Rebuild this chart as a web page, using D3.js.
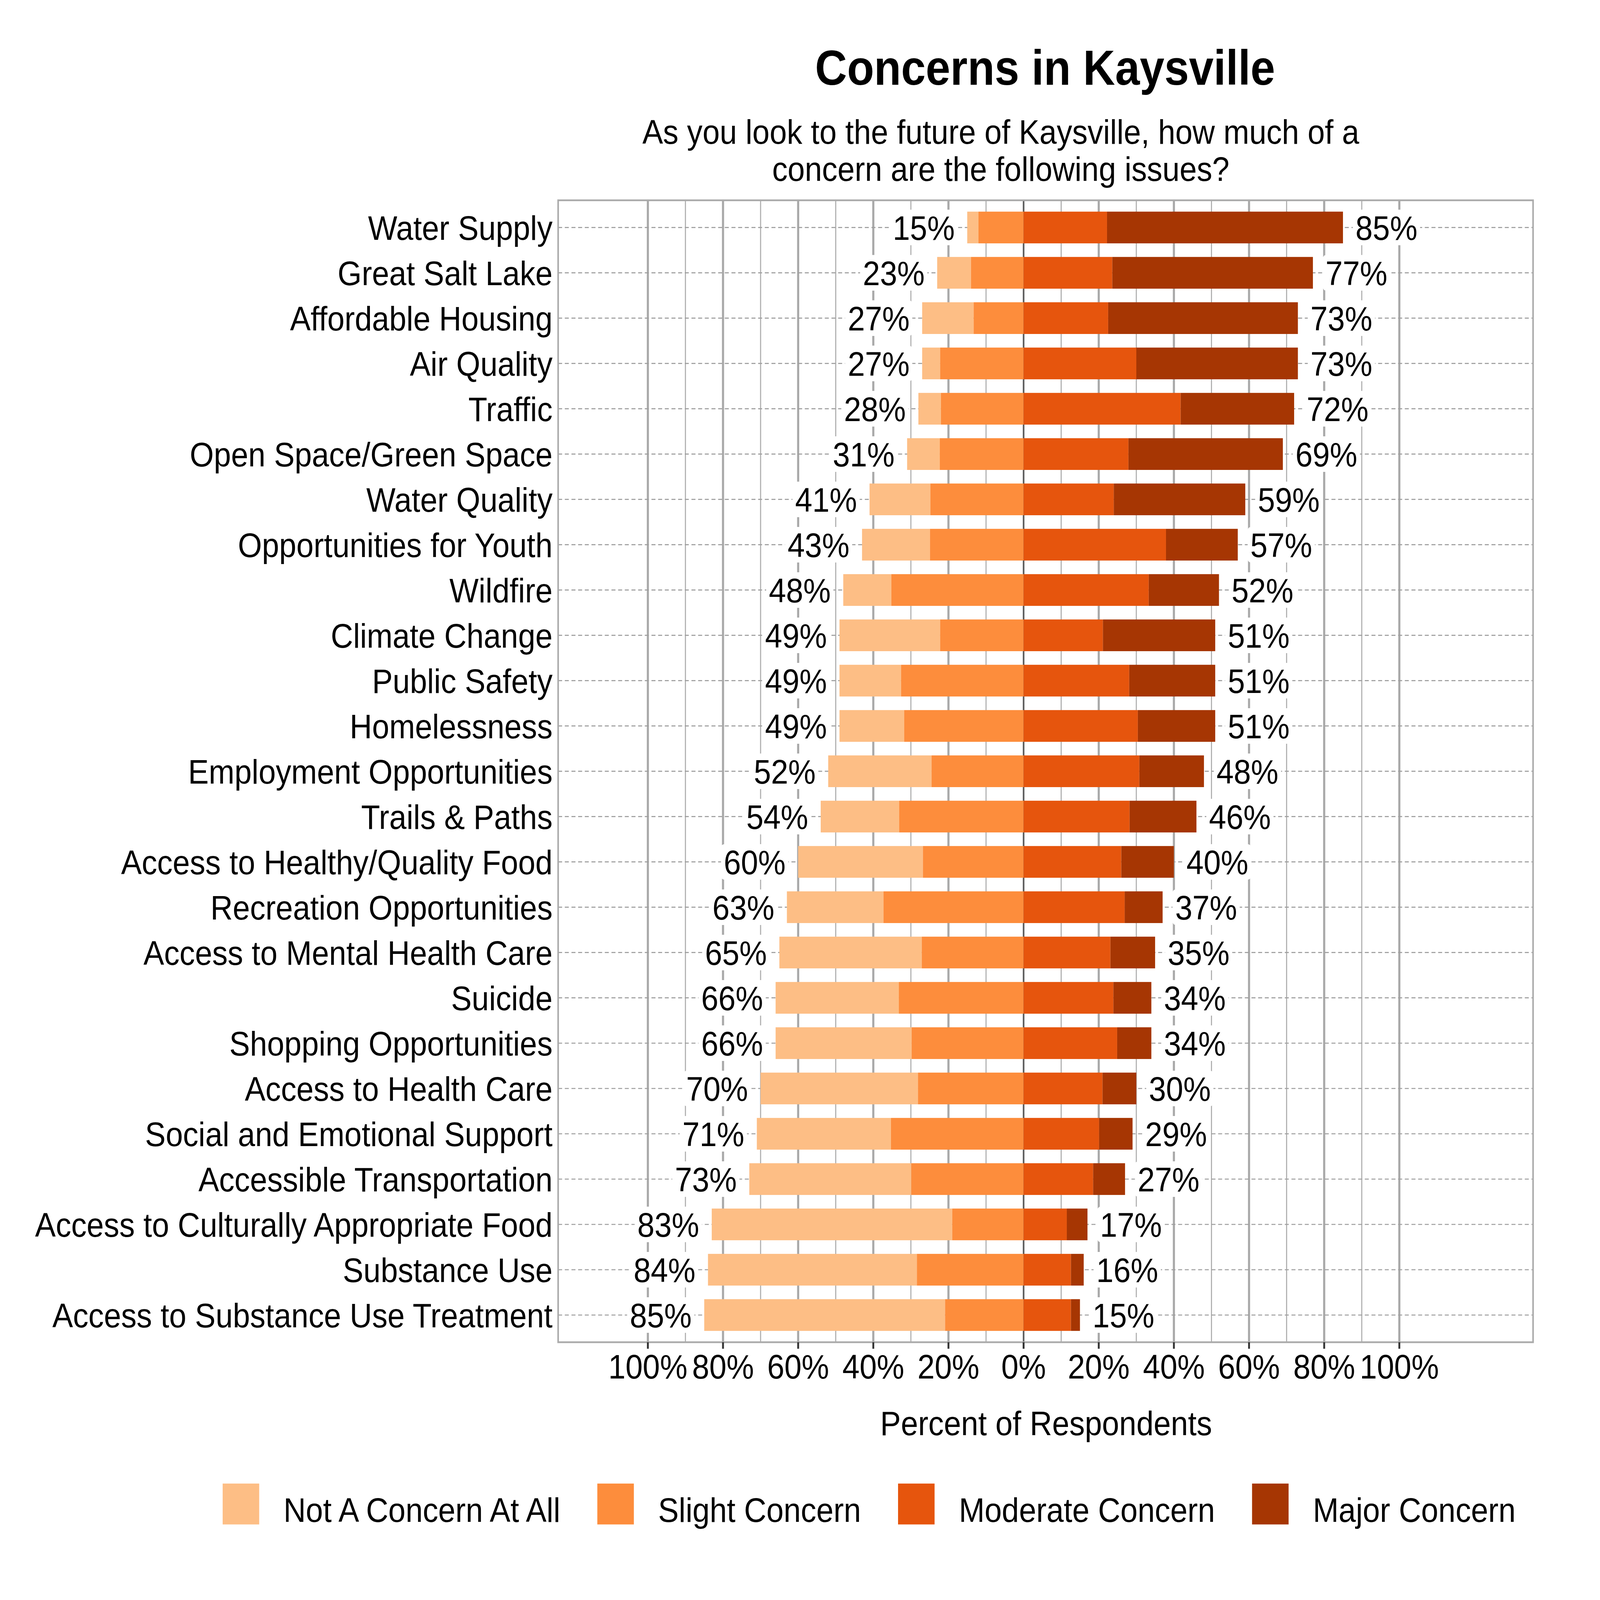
<!DOCTYPE html>
<html>
<head>
<meta charset="utf-8">
<script src="https://cdn.jsdelivr.net/npm/d3@7"></script>
<style>
  html, body { margin: 0; padding: 0; background: #fff; overflow: hidden; }
  svg { display: block; width: 100vw; height: 100vh; }
  text { font-family: "Liberation Sans", Arial, sans-serif; fill: #000; }
</style>
</head>
<body>
<div id="chart"></div>
<script>
// survey answers, percent of respondents per issue
var categories = ['Water Supply', 'Great Salt Lake', 'Affordable Housing', 'Air Quality', 'Traffic',
    'Open Space/Green Space', 'Water Quality', 'Opportunities for Youth', 'Wildfire', 'Climate Change',
    'Public Safety', 'Homelessness', 'Employment Opportunities', 'Trails & Paths',
    'Access to Healthy/Quality Food', 'Recreation Opportunities', 'Access to Mental Health Care',
    'Suicide', 'Shopping Opportunities', 'Access to Health Care', 'Social and Emotional Support',
    'Accessible Transportation', 'Access to Culturally Appropriate Food', 'Substance Use',
    'Access to Substance Use Treatment'];
var notConcern = [3, 9, 13.7, 4.8, 6, 8.7, 16.2, 18.1, 12.8, 26.8, 16.4, 17.2, 27.5, 20.9, 33.2, 25.7, 37.9, 32.8, 36.2, 41.9, 35.7, 43.1, 64, 55.6, 64.1];
var slight     = [12, 14, 13.3, 22.2, 22, 22.3, 24.8, 24.9, 35.2, 22.2, 32.6, 31.8, 24.5, 33.1, 26.8, 37.3, 27.1, 33.2, 29.8, 28.1, 35.3, 29.9, 19, 28.4, 20.9];
var moderate   = [22.2, 23.6, 22.5, 30, 41.8, 27.9, 24, 37.9, 33.3, 21.1, 28.1, 30.4, 30.8, 28.2, 26, 26.9, 23.1, 23.9, 24.9, 21, 20.1, 18.5, 11.5, 12.6, 12.6];
var major      = [62.8, 53.4, 50.5, 43, 30.2, 41.1, 35, 19.1, 18.7, 29.9, 22.9, 20.6, 17.2, 17.8, 14, 10.1, 11.9, 10.1, 9.1, 9, 8.9, 8.5, 5.5, 3.4, 2.4];
var levels = ['Not A Concern At All', 'Slight Concern', 'Moderate Concern', 'Major Concern'];
var colors = ['#fdbe85', '#fd8d3c', '#e6550d', '#a63603'];
var xTicks = [-100, -80, -60, -40, -20, 0, 20, 40, 60, 80, 100];
var xMinor = [-90, -70, -50, -30, -10, 10, 30, 50, 70, 90];

var W = 6000, H = 5400,
    panel = { left: 2093, right: 5749, top: 676, bottom: 4530 },
    fs = 116;

var svg = d3.select('#chart').append('svg')
    .attr('viewBox', '0 0 ' + W + ' ' + H)
    .attr('preserveAspectRatio', 'none');
svg.append('rect').attr('width', W).attr('height', H).attr('fill', '#fff');

var x = d3.scaleLinear().domain([-100, 100]).range([2429.5, 5247.5]);
var y = d3.scalePoint().domain(categories).range([panel.top, panel.bottom]).padding(0.6);
var barH = y.step() * 0.7;

// rows: stacked segments, left side goes out from zero
var rows = categories.map(function (c, i) {
    var left = notConcern[i] + slight[i], right = moderate[i] + major[i];
    return {
        name: c, left: left, right: right,
        segs: [
            { k: 0, x0: -left, x1: -slight[i] },
            { k: 1, x0: -slight[i], x1: 0 },
            { k: 2, x0: 0, x1: moderate[i] },
            { k: 3, x0: moderate[i], x1: right }
        ]
    };
});

var grid = svg.append('g');
grid.selectAll('.minor').data(xMinor).enter().append('line')
    .attr('x1', function (d) { return x(d); }).attr('x2', function (d) { return x(d); })
    .attr('y1', panel.top).attr('y2', panel.bottom)
    .attr('stroke', '#adadad').attr('stroke-width', 4);
grid.selectAll('.major').data(xTicks).enter().append('line')
    .attr('x1', function (d) { return x(d); }).attr('x2', function (d) { return x(d); })
    .attr('y1', panel.top).attr('y2', panel.bottom)
    .attr('stroke', function (d) { return d === 0 ? '#5a5a5a' : '#a9a9a9'; })
    .attr('stroke-width', function (d) { return d === 0 ? 6 : 8; });
grid.selectAll('.row').data(categories).enter().append('line')
    .attr('x1', panel.left).attr('x2', panel.right)
    .attr('y1', function (d) { return y(d); }).attr('y2', function (d) { return y(d); })
    .attr('stroke', '#9e9e9e').attr('stroke-width', 3.5)
    .attr('stroke-dasharray', '15,10');

var bars = svg.append('g').selectAll('g').data(rows).enter().append('g');
bars.selectAll('rect').data(function (d) { return d.segs.map(function (s) { s.name = d.name; return s; }); })
    .enter().append('rect')
    .attr('x', function (d) { return x(d.x0); })
    .attr('width', function (d) { return Math.max(0, x(d.x1) - x(d.x0)); })
    .attr('y', function (d) { return y(d.name) - barH / 2; })
    .attr('height', barH)
    .attr('fill', function (d) { return colors[d.k]; });

// percent labels with white boxes
function boxedLabel(g, tx, ty, txt, anchor) {
    var t = g.append('text')
        .attr('x', tx).attr('y', ty + fs * 0.355)
        .attr('text-anchor', anchor)
        .attr('font-size', fs)
        .text(txt);
    var bb = t.node().getBBox();
    g.insert('rect', 'text')
        .attr('x', bb.x - 10).attr('width', bb.width + 20)
        .attr('y', ty - 60).attr('height', 120)
        .attr('rx', 12).attr('fill', '#fff');
}
var labs = svg.append('g');
rows.forEach(function (r) {
    boxedLabel(labs.append('g'), x(-r.left) - 47, y(r.name), Math.round(r.left) + '%', 'end');
    boxedLabel(labs.append('g'), x(r.right) + 47, y(r.name), Math.round(r.right) + '%', 'start');
});

// panel border
svg.append('rect')
    .attr('x', panel.left).attr('y', panel.top)
    .attr('width', panel.right - panel.left).attr('height', panel.bottom - panel.top)
    .attr('fill', 'none').attr('stroke', '#ababab').attr('stroke-width', 6);

// category labels
svg.append('g').selectAll('text').data(categories).enter().append('text')
    .attr('x', panel.left - 21)
    .attr('y', function (d) { return y(d) + fs * 0.36; })
    .attr('text-anchor', 'end')
    .attr('font-size', fs)
    .text(function (d) { return d; });

// x axis ticks and labels
var ax = svg.append('g');
ax.selectAll('line').data(xTicks).enter().append('line')
    .attr('x1', function (d) { return x(d); }).attr('x2', function (d) { return x(d); })
    .attr('y1', panel.bottom).attr('y2', panel.bottom + 22)
    .attr('stroke', '#333').attr('stroke-width', 7);
ax.selectAll('text').data(xTicks).enter().append('text')
    .attr('x', function (d) { return x(d); })
    .attr('y', 4652)
    .attr('text-anchor', 'middle')
    .attr('font-size', fs)
    .text(function (d) { return Math.abs(d) + '%'; });

svg.append('text').attr('x', 3923).attr('y', 4843)
    .attr('text-anchor', 'middle').attr('font-size', fs)
    .text('Percent of Respondents');

// titles
svg.append('text').attr('x', 3919).attr('y', 286)
    .attr('text-anchor', 'middle').attr('font-size', 166).attr('font-weight', 'bold')
    .text('Concerns in Kaysville');
svg.append('text').attr('x', 3753).attr('y', 485)
    .attr('text-anchor', 'middle').attr('font-size', fs)
    .text('As you look to the future of Kaysville, how much of a');
svg.append('text').attr('x', 3753).attr('y', 611)
    .attr('text-anchor', 'middle').attr('font-size', fs)
    .text('concern are the following issues?');

// legend
var lx = 835;
levels.forEach(function (name, i) {
    svg.append('rect').attr('x', lx).attr('y', 5007)
        .attr('width', 137).attr('height', 138)
        .attr('fill', colors[i]);
    var t = svg.append('text').attr('x', lx + 137 + 91).attr('y', 5137)
        .attr('font-size', fs).text(name);
    lx = lx + 137 + 91 + t.node().getComputedTextLength() + 139;
});
</script>
</body>
</html>
